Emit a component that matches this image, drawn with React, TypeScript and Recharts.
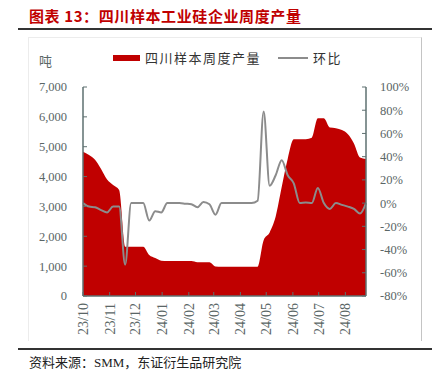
import React from "react";
import { ComposedChart, Area, Line, XAxis, YAxis } from "recharts";

const weeks = [
  "2023-10-01", "2023-10-08", "2023-10-15", "2023-10-22", "2023-10-29",
  "2023-11-05", "2023-11-12", "2023-11-19", "2023-11-26",
  "2023-12-03", "2023-12-10", "2023-12-17", "2023-12-24", "2023-12-31",
  "2024-01-07", "2024-01-14", "2024-01-21", "2024-01-28",
  "2024-02-04", "2024-02-11", "2024-02-18", "2024-02-25",
  "2024-03-03", "2024-03-10", "2024-03-17", "2024-03-24", "2024-03-31",
  "2024-04-07", "2024-04-14", "2024-04-21", "2024-04-28",
  "2024-05-05", "2024-05-12", "2024-05-19", "2024-05-26",
  "2024-06-02", "2024-06-09", "2024-06-16", "2024-06-23", "2024-06-30",
  "2024-07-07", "2024-07-14", "2024-07-21", "2024-07-28",
  "2024-08-04", "2024-08-11", "2024-08-18", "2024-08-25",
];

const output = [
  4830, 4720, 4560, 4250, 3900, 3720, 3550, 1650, 1650, 1650,
  1650, 1370, 1270, 1180, 1170, 1170, 1170, 1170, 1170, 1130,
  1130, 1130, 990, 980, 980, 980, 980, 980, 980, 980,
  1870, 2130, 2660, 3650, 4600, 5250, 5250, 5250, 5300, 5950,
  5950, 5640, 5620, 5560, 5420, 5110, 4640, 4590,
];

const wow = [
  0, -3, -3.5, -6, -8, -3, -3, -53, 0, 0,
  0, -15, -7, -8, 0, 0, 0, -0.5, -1, -3.5,
  1, -1, -10, 0, 0, 0, 0, 0, 0, 2,
  79, 15, 24, 37, 24, 17, 0, 0.5, 0, 13,
  0, -5, 0, -1.5, -3, -5, -9, 0,
];

const monthTicks = [
  "2023-10-01", "2023-11-01", "2023-12-01", "2024-01-01", "2024-02-01",
  "2024-03-01", "2024-04-01", "2024-05-01", "2024-06-01", "2024-07-01",
  "2024-08-01",
];
const monthLabels = [
  "23/10", "23/11", "23/12", "24/01", "24/02", "24/03", "24/04", "24/05",
  "24/06", "24/07", "24/08",
];

const leftTicks = [0, 1000, 2000, 3000, 4000, 5000, 6000, 7000];
const rightTicks = [-80, -60, -40, -20, 0, 20, 40, 60, 80, 100];

const toTs = (s: string) => Date.parse(s + "T00:00:00Z");

const data = weeks.map((w, i) => ({ t: toTs(w), output: output[i], wow: wow[i] }));
const tickTs = monthTicks.map(toTs);

const AXIS = "#5E7070";
const TXT = "#5A6666";
const RED = "#C00000";
const GREY = "#8C8C8C";
const SERIF = "'Liberation Serif', 'Noto Sans CJK SC', serif";
const CJK = "'Noto Sans CJK SC', sans-serif";

const XTick = (props: any) => {
  const { x, y, payload } = props;
  const idx = tickTs.indexOf(payload.value);
  const label = idx >= 0 ? monthLabels[idx] : "";
  return (
    <text
      x={x}
      y={y}
      transform={`rotate(-90, ${x}, ${y})`}
      textAnchor="end"
      dy={5}
      fill={TXT}
      fontSize={14}
      fontFamily={SERIF}
    >
      {label}
    </text>
  );
};

export default function App() {
  return (
    <div
      style={{
        position: "absolute",
        left: 0,
        top: 0,
        width: 432,
        height: 385,
        background: "#fff",
        overflow: "hidden",
      }}
    >
      <div
        style={{
          position: "absolute",
          left: 29,
          top: 6,
          fontSize: 15,
          fontWeight: 700,
          color: RED,
          fontFamily: CJK,
          letterSpacing: 0.6,
          whiteSpace: "nowrap",
          lineHeight: "20px",
        }}
      >
        图表 13：四川样本工业硅企业周度产量
      </div>
      <div style={{ position: "absolute", left: 18, top: 28, width: 414, height: 1.5, background: "#333" }} />
      <div
        style={{
          position: "absolute",
          left: 28,
          top: 37,
          width: 392,
          height: 303,
          borderTop: "1px solid #ececec",
          borderLeft: "1px solid #ececec",
          borderRight: "1px solid #c4c4c4",
        }}
      />
      <div style={{ position: "absolute", left: 18, top: 348, width: 414, height: 1.5, background: "#333" }} />
      <div
        style={{
          position: "absolute",
          left: 29,
          top: 354,
          fontSize: 13,
          color: "#222",
          fontFamily: SERIF,
          whiteSpace: "nowrap",
          lineHeight: "18px",
        }}
      >
        资料来源：SMM，东证衍生品研究院
      </div>

      {/* legend */}
      <div style={{ position: "absolute", left: 113, top: 55, width: 27, height: 6, background: RED }} />
      <div
        style={{
          position: "absolute",
          left: 145,
          top: 49,
          fontSize: 13,
          color: "#333",
          fontFamily: CJK,
          letterSpacing: 1.5,
          whiteSpace: "nowrap",
          lineHeight: "18px",
        }}
      >
        四川样本周度产量
      </div>
      <div style={{ position: "absolute", left: 278, top: 57, width: 30, height: 2, background: GREY }} />
      <div
        style={{
          position: "absolute",
          left: 313,
          top: 49,
          fontSize: 13,
          color: "#333",
          fontFamily: CJK,
          letterSpacing: 1.5,
          whiteSpace: "nowrap",
          lineHeight: "18px",
        }}
      >
        环比
      </div>
      <div
        style={{
          position: "absolute",
          left: 39,
          top: 53,
          fontSize: 13,
          color: TXT,
          fontFamily: CJK,
          lineHeight: "16px",
        }}
      >
        吨
      </div>

      <div style={{ position: "absolute", left: 0, top: 0 }}>
        <ComposedChart
          width={432}
          height={385}
          data={data}
          margin={{ top: 87, right: 6, bottom: 44, left: 23 }}
        >
          <XAxis
            dataKey="t"
            type="number"
            scale="linear"
            domain={[toTs(weeks[0]), toTs(weeks[weeks.length - 1])]}
            ticks={tickTs}
            interval={0}
            tick={<XTick />}
            tickSize={-4}
            tickMargin={11}
            height={45}
            stroke={AXIS}
            tickLine={{ stroke: AXIS }}
            axisLine={{ stroke: AXIS, strokeWidth: 1.5 }}
          />
          <YAxis
            yAxisId="left"
            orientation="left"
            domain={[0, 7000]}
            ticks={leftTicks}
            interval={0}
            width={60}
            tickSize={-4}
            tickMargin={20}
            tickFormatter={(v: number) => v.toLocaleString("en-US")}
            tick={{ fill: TXT, fontSize: 12.5, fontFamily: SERIF }}
            axisLine={{ stroke: AXIS, strokeWidth: 1.5 }}
            tickLine={{ stroke: AXIS }}
          />
          <YAxis
            yAxisId="right"
            orientation="right"
            domain={[-80, 100]}
            ticks={rightTicks}
            interval={0}
            width={60}
            tickSize={-4}
            tickMargin={18}
            tickFormatter={(v: number) => `${v}%`}
            tick={{ fill: TXT, fontSize: 12.5, fontFamily: SERIF, textAnchor: "start" }}
            axisLine={{ stroke: AXIS, strokeWidth: 1.5 }}
            tickLine={{ stroke: AXIS }}
          />
          <Area
            yAxisId="left"
            type="monotone"
            dataKey="output"
            fill={RED}
            fillOpacity={1}
            stroke="none"
            isAnimationActive={false}
          />
          <Line
            yAxisId="right"
            type="monotone"
            dataKey="wow"
            stroke={GREY}
            strokeWidth={2}
            dot={false}
            isAnimationActive={false}
          />
        </ComposedChart>
      </div>
    </div>
  );
}
